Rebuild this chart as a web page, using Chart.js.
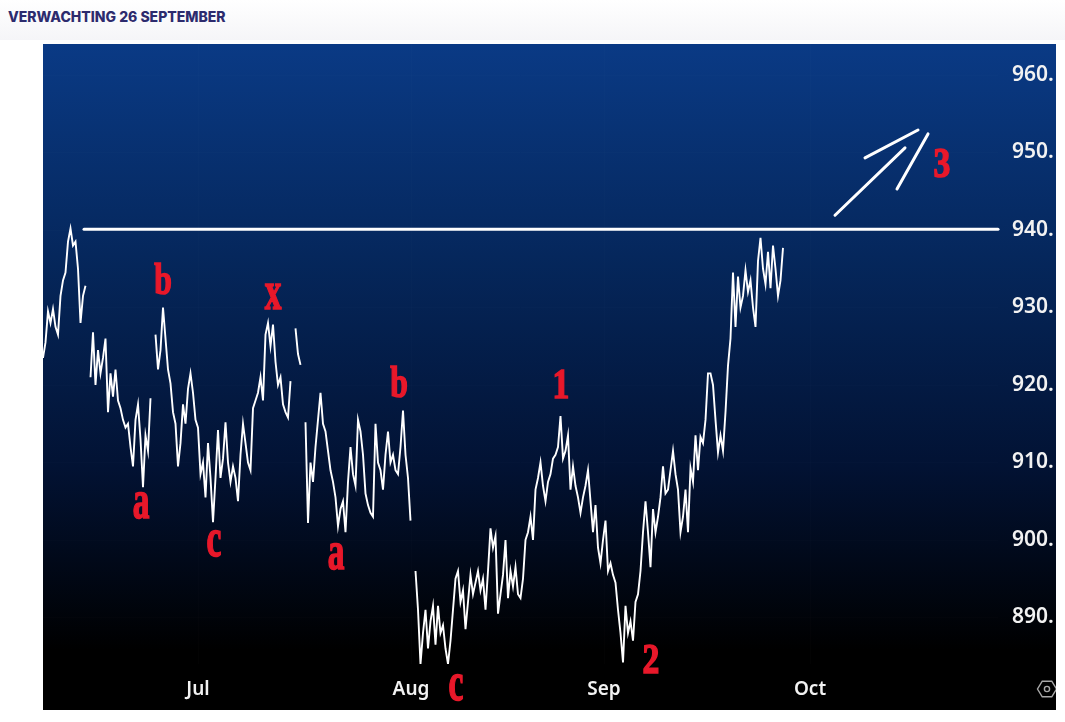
<!DOCTYPE html>
<html>
<head>
<meta charset="utf-8">
<title>Verwachting 26 september</title>
<script src="https://cdn.jsdelivr.net/npm/chart.js@4/dist/chart.umd.min.js"></script>
<style>
    html, body { margin: 0; padding: 0; background: #fff; }
    #header {
        position: absolute; left: 0; top: 0; width: 1065px; height: 40px;
        background: linear-gradient(#ffffff, #f5f5f8);
        font: 800 14px Inter, sans-serif; color: #2d2b6e;
        line-height: 33px; text-indent: 8px;
    }
    #wrap { position: absolute; left: 0; top: 0; width: 1065px; height: 722px; }
</style>
</head>
<body>
<div id="wrap"><canvas id="chart" width="1065" height="722"></canvas></div>
<div id="header">VERWACHTING 26 SEPTEMBER</div>
<script>
// Koersen (null = gat in de reeks)
const prices = [
    923.5, 925.5, 929.5, 928.0, 929.8, 927.5, 926.5, 931.5, 933.5, 934.5,
    938.5, 940.2, 938.0, 938.5, 935.0, 928.0, 931.5, 932.8, null, 921.0,
    926.8, 920.0, 924.5, 921.5, 923.5, 926.0, 916.5, 921.5, 918.5, 922.0,
    918.0, 917.0, 915.5, 914.5, 915.0, 912.0, 909.5, 915.5, 917.5, 913.0,
    906.8, 913.5, 911.5, 918.3, null, 926.5, 922.0, 924.5, 930.0, 926.0,
    922.0, 920.2, 916.5, 915.0, 909.5, 912.5, 917.5, 915.0, 919.5, 921.5,
    919.0, 915.5, 914.5, 908.5, 910.0, 905.5, 912.5, 908.0, 902.3, 908.0,
    914.2, 908.0, 910.5, 915.2, 910.0, 907.5, 909.5, 908.0, 905.0, 911.0,
    915.0, 912.5, 910.0, 909.0, 917.0, 918.0, 919.0, 921.0, 918.0, 926.5,
    928.0, 925.0, 927.8, 923.0, 920.0, 921.0, 917.5, 916.5, 915.8, 920.5,
    null, 927.3, 924.0, 922.6, null, 915.2, 902.2, 910.0, 907.5, 912.0,
    915.5, 919.0, 915.0, 914.0, 911.5, 909.0, 907.5, 905.5, 901.8, 904.0,
    905.0, 901.0, 907.5, 912.0, 908.5, 907.0, 915.5, 914.0, 911.0, 906.0,
    904.5, 903.5, 903.0, 915.0, 910.0, 909.0, 906.5, 911.0, 914.0, 910.0,
    911.0, 909.0, 908.5, 912.0, 916.7, 911.0, 908.0, 902.5, null, 896.0,
    891.0, 884.0, 888.0, 891.0, 886.0, 889.5, 891.5, 886.5, 891.5, 888.0,
    889.0, 886.0, 884.0, 887.0, 891.0, 895.0, 896.0, 892.0, 893.5, 888.5,
    892.0, 895.5, 893.0, 894.5, 896.0, 893.5, 895.0, 891.0, 896.0, 901.5,
    899.0, 900.5, 890.5, 893.0, 895.5, 900.0, 892.5, 896.0, 894.0, 896.5,
    893.0, 892.5, 895.0, 900.0, 901.0, 903.0, 900.0, 906.5, 908.0, 910.0,
    907.0, 905.0, 907.5, 908.5, 910.5, 911.0, 912.0, 916.0, 910.5, 911.5,
    913.5, 906.5, 909.5, 907.0, 905.5, 903.5, 905.5, 907.0, 909.0, 905.0,
    901.0, 904.5, 899.0, 897.0, 900.0, 902.5, 896.0, 897.0, 895.5, 894.5,
    891.0, 888.0, 884.2, 891.5, 888.0, 889.5, 887.0, 892.0, 893.0, 896.0,
    901.0, 905.0, 901.0, 896.5, 904.0, 901.0, 903.0, 905.5, 909.5, 906.0,
    906.5, 909.0, 911.5, 908.5, 906.5, 901.0, 903.0, 906.5, 901.0, 909.3,
    907.5, 913.5, 909.0, 913.3, 912.5, 915.5, 921.5, 921.5, 920.0, 915.5,
    911.3, 913.5, 911.5, 916.5, 922.5, 926.0, 934.5, 927.5, 934.0, 930.0,
    931.5, 934.8, 932.0, 933.5, 930.0, 927.5, 936.0, 939.0, 935.0, 933.0,
    937.2, 932.5, 938.0, 935.0, 931.5, 933.5, 937.7
];

const priceTicks = [890, 900, 910, 920, 930, 940, 950, 960];
const monthNames = ['Jul', 'Aug', 'Sep', 'Oct'];
const monthStarts = [62, 147.2, 224.4, 306.8];

// Weerstandslijn en de drie getekende pijlstrepen
const resistanceIndex = [16.4, 382];
const resistancePrice = [940.1, 940.1];
const arrowIndex = [[316.8, 344.8], [328.8, 350], [341.6, 354]];
const arrowPrice = [[941.9, 950.6], [949.3, 952.9], [945.3, 952.4]];

// Golftelling
const waveLabels = ['b', 'a', 'c', 'x', 'a', 'b', 'c', '1', '2', '3'];
const waveIndex = [48, 39.2, 68.4, 92, 117.2, 142.4, 165.2, 207.2, 243.2, 359.6];
const wavePrice = [933.7, 904.5, 899.6, 931.4, 897.9, 920.5, 881, 920.1, 884.6, 948.6];

function toPoints(xs, ys) {
    return xs.map(function(x, i) { return { x: x, y: ys[i] }; });
}

function whiteStroke(points) {
    return {
        data: points,
        borderColor: '#ffffff',
        borderWidth: 3,
        borderCapStyle: 'round',
        pointRadius: 0,
        tension: 0,
        clip: false
    };
}

const backgroundPlugin = {
    id: 'background',
    beforeDraw: function(chart) {
        const c = chart.ctx;
        const g = c.createLinearGradient(0, 44, 0, 650);
        g.addColorStop(0, '#0a3a85');
        g.addColorStop(0.35, '#05275c');
        g.addColorStop(0.7, '#021233');
        g.addColorStop(1, '#000000');
        c.save();
        c.fillStyle = g;
        c.fillRect(43, 44, 1013, 666);
        c.restore();
    }
};

const waveLabelPlugin = {
    id: 'waveLabels',
    afterDatasetsDraw: function(chart) {
        const c = chart.ctx;
        c.save();
        c.fillStyle = '#e8182a';
        c.strokeStyle = '#e8182a';
        c.lineWidth = 1.6;
        c.textAlign = 'center';
        c.textBaseline = 'alphabetic';
        waveLabels.forEach(function(label, i) {
            let size = 42, stretch = 0.8;
            if (label === 'b') { size = 44; stretch = 0.72; }
            if (label === 'a' || label === 'c' || label === 'x') { size = 54; stretch = 0.62; }
            c.font = 'bold ' + size + 'px "Liberation Serif", serif';
            const m = c.measureText(label);
            const px = chart.scales.x.getPixelForValue(waveIndex[i]);
            const py = chart.scales.y.getPixelForValue(wavePrice[i]);
            c.save();
            c.translate(px, py + (m.actualBoundingBoxAscent - m.actualBoundingBoxDescent) / 2);
            c.scale(stretch, 1);
            c.fillText(label, 0, 0);
            c.strokeText(label, 0, 0);
            c.restore();
        });
        c.restore();
    }
};

// Instellingen-icoon rechtsonder, loopt tegen de rand aan
const settingsIconPlugin = {
    id: 'settingsIcon',
    afterDraw: function(chart) {
        const c = chart.ctx;
        c.save();
        c.beginPath();
        c.rect(1030, 675, 26, 30);
        c.clip();
        c.strokeStyle = '#a8a8a8';
        c.lineWidth = 1.4;
        c.beginPath();
        for (let k = 0; k < 6; k++) {
            const a = Math.PI / 3 * k;
            c.lineTo(1047 + 9.5 * Math.cos(a), 689 + 9 * Math.sin(a));
        }
        c.closePath();
        c.stroke();
        c.beginPath();
        c.arc(1047, 689, 2.6, 0, Math.PI * 2);
        c.stroke();
        c.restore();
    }
};

const datasets = [{
    data: toPoints(prices.map(function(p, i) { return i; }), prices),
    borderColor: '#ffffff',
    borderWidth: 1.9,
    borderJoinStyle: 'miter',
    pointRadius: 0,
    tension: 0,
    spanGaps: false
}, whiteStroke(toPoints(resistanceIndex, resistancePrice))];

arrowIndex.forEach(function(xs, i) {
    datasets.push(whiteStroke(toPoints(xs, arrowPrice[i])));
});

new Chart(document.getElementById('chart'), {
    type: 'line',
    data: { datasets: datasets },
    plugins: [backgroundPlugin, waveLabelPlugin, settingsIconPlugin],
    options: {
        responsive: false,
        animation: false,
        layout: { padding: { left: 43, top: 44, right: 9, bottom: 12 } },
        plugins: { legend: { display: false }, tooltip: { enabled: false } },
        scales: {
            x: {
                type: 'linear',
                min: 0,
                max: 382,
                border: { display: false },
                grid: { color: 'rgba(255,255,255,0.012)', drawTicks: false },
                afterBuildTicks: function(scale) {
                    scale.ticks = monthStarts.map(function(v) { return { value: v }; });
                },
                afterFit: function(scale) { scale.height = 46; },
                ticks: {
                    autoSkip: false,
                    maxRotation: 0,
                    padding: 14,
                    color: '#f2f2f2',
                    font: { family: '"Noto Sans"', size: 19, weight: '600' },
                    callback: function(value) {
                        return monthNames[monthStarts.indexOf(value)];
                    }
                }
            },
            y: {
                position: 'right',
                min: 884,
                max: 964,
                border: { display: false },
                grid: { color: 'rgba(255,255,255,0.012)', drawTicks: false },
                afterBuildTicks: function(scale) {
                    scale.ticks = priceTicks.map(function(v) { return { value: v }; });
                },
                afterFit: function(scale) { scale.width = 58; },
                ticks: {
                    padding: 14,
                    color: '#f2f2f2',
                    font: { family: '"Noto Sans"', size: 21, weight: '600' },
                    callback: function(value) { return value + '.'; }
                }
            }
        }
    }
});
</script>
</body>
</html>
